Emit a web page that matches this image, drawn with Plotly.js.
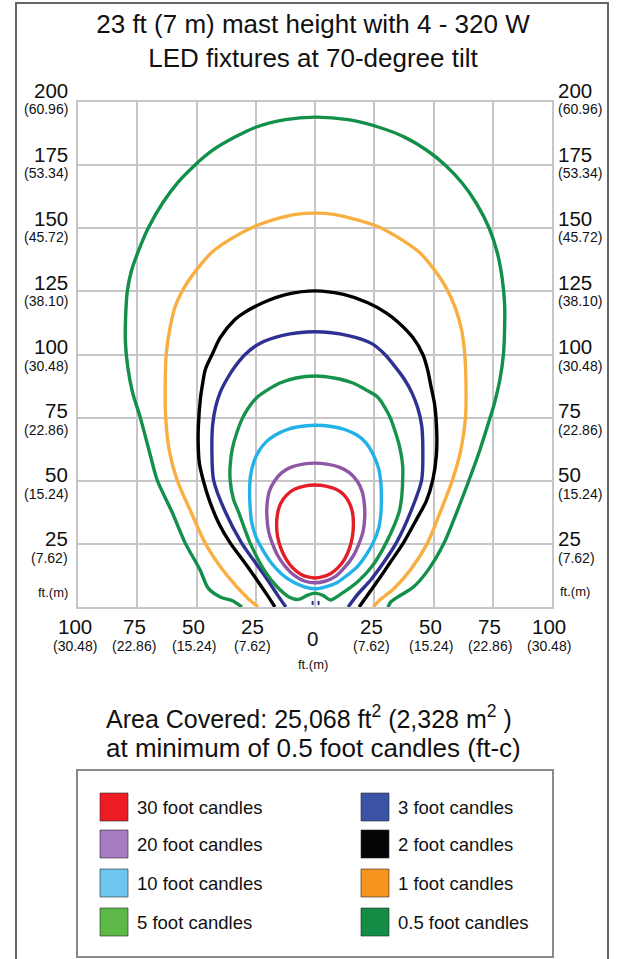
<!DOCTYPE html>
<html><head><meta charset="utf-8">
<script src="https://cdn.plot.ly/plotly-3.0.1.min.js"></script>
<style>html,body{margin:0;padding:0;background:#fff;}#chart{width:626px;height:959px;}</style>
</head><body><div id="chart"></div>
<script>
// ---- data (feet) ----
const c05x = [-30.8,-34.6,-40,-45.1,-48.5,-54.8,-60.5,-66.6,-70,-73.8,-77,-79,-80,-79.9,-79.2,-77.5,-74.5,-70.4,-64.3,-58,-50.7,-43,-34,-25,-12.5,0,14,27,38,47,55,62,68,73.5,77,79,80,80,79.5,78,75.5,74,69.5,65,60,54.5,48,41.5,35,32,30.8];
const c05y = [0,2.4,4,7.5,14.7,25.4,38,50.3,62,75.3,85,95,105,115,125,133,141,150,160,168,175,181,186,190,193,194,193,190,186,181,175,168,160,150,140,130,120,110,100,90,80,75.3,62,50.3,38,25.4,15,7.9,4,2,0];
const c1x = [-24,-28,-32.9,-40,-46.4,-52.5,-58.2,-61.5,-63,-63.2,-62.8,-61.3,-59,-55.5,-50,-43.5,-36,-26,-17,-8,0,8,17,27,36.5,44,50,55,59,61.8,63.2,63.7,63.5,61.5,58,53,47.5,40.5,33,27,24.6];
const c1y = [0,3.2,7.9,16,25.4,38,50.3,62,75,88,100,110,119,126,133.5,140.5,145.5,150.5,153.5,155.5,156,155.5,153.5,150.5,145.5,140.5,134,127,119,110,100,88,75,62,50.3,38,25.4,15,7,2.5,0];
const c2x = [-16.9,-20,-24.5,-30,-35.8,-40.5,-44.5,-47.2,-48.8,-49.3,-49.2,-48.3,-47.5,-46.3,-43.4,-40,-34,-30,-22,-12,0,12,22.3,30,34.6,41.3,45.5,47.5,48.8,50.5,51.4,51.2,49.7,47,43,37.3,32,26.7,22,18.6];
const c2y = [0,4.5,10.7,18,25.4,33,42,50.3,57,65,72,83,88,94,100,106.7,113.7,116.5,120.5,123.8,125.2,123.8,120.5,116.5,113.2,106.7,100,94,88,80,68,60,50.3,42,35,25.4,18,10.7,4.5,0];
const c3x = [-12.3,-16,-20,-25.5,-31,-38,-42.8,-43.5,-43.2,-42,-40,-37,-33.5,-29.5,-23.5,-14,0,14,24,29.5,33.5,37.5,40.8,43.3,45,45.5,45,40.5,34.3,28.5,23.5,18,14];
const c3y = [0,5,10.7,18,25.4,38,50.3,62,72,79,85,90.5,95.5,100,104.3,107.5,109,107.5,104.3,100,95.5,90.5,85,79,72,62,50.3,38,25.4,17,10.7,5,0];
const c3dotsX = [-1,-1,null,1.5,1.5];
const c3dotsY = [0.8,2.4,null,0.8,2.4];
const c5x = [0,-3.5,-7,-11,-16,-21,-27.4,-32,-34.5,-35.8,-35.8,-34.8,-33,-30.5,-28,-24.5,-20,-14.8,-8,0,8,16,21.5,26.6,29.5,31.6,34,35.8,37,37,36.5,35.5,30,24,18,11,6.5,3.5,0];
const c5y = [5.5,4.5,3,4,8,14,25.4,37,43,50.3,56,63,69,75,79,83,86,88.7,90.7,91.5,90.7,88.7,86,83,79,75.3,69,63,56,50.3,43,37.6,25.4,16,10,5.2,2.8,4.5,5.5];
const c10x = [0,-4.5,-9,-14,-18.5,-22.3,-25,-26.8,-27.4,-27.6,-27.2,-25.8,-23.5,-20.5,-16.5,-12,-7,0,7,12.5,17.5,21.5,24.5,26.8,27.8,28,27.8,26.8,24.5,21.5,17.7,13.5,9,4.5,0];
const c10y = [7.2,8,9.8,13,17.5,23,28,34,40,46,52,57.5,62,65.5,68.2,70.2,71.4,72,71.5,70.3,68.2,65,60.5,55,49,43,37,31,25.4,20.5,15.8,12.5,9.5,8,7.2];
const c20x = [0,-4.2,-8.5,-12.5,-15.8,-18.1,-19.6,-20.3,-20.2,-19.2,-17,-14,-10,-5,0,5,10.2,14.5,17.7,19.8,20.8,21,20.3,18.7,16,12.6,8.5,4.2,0];
const c20y = [9.6,10.2,12.3,16,20.5,25.4,30,36,41,46,50,53.2,55.4,56.6,57,56.6,55.4,53.2,50,46,41,36,30,25.4,20,15.8,12,10.2,9.6];
const c30x = [0,-3,-6,-9.5,-12.4,-14.5,-15.8,-16.2,-15.8,-14.5,-12,-8.7,-4.5,0,4.6,8.9,12.3,14.6,15.9,16.2,15.8,14.6,12.5,9.5,6.3,3,0];
const c30y = [11.5,11.9,13,15.6,19.3,23.5,28,32.5,37,41,44.3,46.6,47.9,48.3,47.9,46.6,44.3,41,37,32.5,28,23.3,19,15.4,13.1,11.9,11.5];

const xTickVals = [-100,-75,-50,-25,0,25,50,75,100];
const xTickMain = ['100','75','50','25','0','25','50','75','100'];
const xTickSub = ['(30.48)','(22.86)','(15.24)','(7.62)','','(7.62)','(15.24)','(22.86)','(30.48)'];
const yTickVals = [25,50,75,100,125,150,175,200];
const yTickMain = ['25','50','75','100','125','150','175','200'];
const yTickSub = ['(7.62)','(15.24)','(22.86)','(30.48)','(38.10)','(45.72)','(53.34)','(60.96)'];

const legendLabels = ['30 foot candles','20 foot candles','10 foot candles','5 foot candles','3 foot candles','2 foot candles','1 foot candles','0.5 foot candles'];
const legendColors = ['#ed1c24','#a77bc0','#6cc6ee','#5cb947','#3a53a4','#050505','#f7941d','#138c45'];
const lineColors = ['#e31e26','#8d56a6','#22b1e8','#17924a','#2e3192','#000000','#f9ae42','#12904a'];

const titleText = '23 ft (7 m) mast height with 4 - 320 W<br>LED fixtures at 70-degree tilt';
const areaLine1 = 'Area Covered: 25,068 ft<sup>2</sup> (2,328 m<sup>2</sup> )';
const areaLine2 = 'at minimum of 0.5 foot candles (ft-c)';
const unitLabel = 'ft.(m)';

// ---- layout helpers ----
const FONT = 'Liberation Sans, Arial, Helvetica, sans-serif';
const L = 78, R = 552, T = 102, B = 607;
const px2x = p => (p - L) / (R - L);
const py2y = p => (B - p) / (B - T);

const curves = [
  [c05x, c05y, 7], [c1x, c1y, 6], [c2x, c2y, 5], [c3x, c3y, 4],
  [c5x, c5y, 3], [c10x, c10y, 2], [c20x, c20y, 1], [c30x, c30y, 0]
];
const traces = curves.map(c => ({
  type: 'scatter', mode: 'lines', x: c[0], y: c[1],
  line: {color: lineColors[c[2]], width: 3.4, shape: 'spline', smoothing: 0.8},
  hoverinfo: 'skip', showlegend: false
}));
traces.push({type: 'scatter', mode: 'lines', x: c3dotsX, y: c3dotsY,
  line: {color: lineColors[4], width: 2}, showlegend: false, hoverinfo: 'skip'});

const ann = [];
yTickVals.forEach((v, i) => {
  const upShift = 5 + (v - 25) / 175 * 7;
  const downShift = 14 - (v - 25) / 175 * 7;
  [[px2x(70), 'right'], [px2x(556), 'left']].forEach(s => {
    ann.push({xref: 'paper', yref: 'y', x: s[0], y: v, xanchor: s[1], yanchor: 'middle',
      yshift: upShift, text: yTickMain[i], showarrow: false, font: {family: FONT, size: 20.5, color: '#111'}});
    ann.push({xref: 'paper', yref: 'y', x: s[0], y: v, xanchor: s[1], yanchor: 'middle',
      yshift: -downShift, text: yTickSub[i], showarrow: false, font: {family: FONT, size: 14, color: '#111'}});
  });
});
ann.push({xref: 'paper', yref: 'paper', x: px2x(70), y: py2y(592), xanchor: 'right', yanchor: 'middle',
  text: unitLabel, showarrow: false, font: {family: FONT, size: 13, color: '#111'}});
ann.push({xref: 'paper', yref: 'paper', x: px2x(558), y: py2y(591), xanchor: 'left', yanchor: 'middle',
  text: unitLabel, showarrow: false, font: {family: FONT, size: 13, color: '#111'}});
xTickVals.forEach((v, i) => {
  const isZero = xTickMain[i] === '0';
  ann.push({xref: 'x', yref: 'paper', x: v, y: py2y(isZero ? 638 : 626), xanchor: 'center', yanchor: 'middle',
    xshift: -3, text: xTickMain[i], showarrow: false, font: {family: FONT, size: 20.5, color: '#111'}});
  if (xTickSub[i]) {
    ann.push({xref: 'x', yref: 'paper', x: v, y: py2y(646), xanchor: 'center', yanchor: 'middle',
      xshift: -3, text: xTickSub[i], showarrow: false, font: {family: FONT, size: 14, color: '#111'}});
  }
});
ann.push({xref: 'paper', yref: 'paper', x: px2x(313), y: py2y(664), xanchor: 'center', yanchor: 'middle',
  text: unitLabel, showarrow: false, font: {family: FONT, size: 13, color: '#111'}});
ann.push({xref: 'paper', yref: 'paper', x: px2x(309), y: py2y(717), xanchor: 'center', yanchor: 'middle',
  text: areaLine1, showarrow: false, font: {family: FONT, size: 25, color: '#111'}});
ann.push({xref: 'paper', yref: 'paper', x: px2x(313), y: py2y(748), xanchor: 'center', yanchor: 'middle',
  text: areaLine2, showarrow: false, font: {family: FONT, size: 26, color: '#111'}});

const shapes = [];
shapes.push({type: 'rect', xref: 'paper', yref: 'paper', x0: px2x(16), x1: px2x(608), y0: py2y(975), y1: py2y(3),
  line: {color: '#666', width: 2}, fillcolor: 'rgba(0,0,0,0)', layer: 'below'});
shapes.push({type: 'rect', xref: 'paper', yref: 'paper', x0: px2x(77), x1: px2x(553), y0: py2y(957), y1: py2y(770),
  line: {color: '#8a8a8a', width: 2}, fillcolor: 'rgba(0,0,0,0)'});
const rowCenters = [807, 844, 883, 922];
legendLabels.forEach((lab, i) => {
  const col = i < 4 ? 0 : 1;
  const cy = rowCenters[i % 4];
  const sx = col === 0 ? 100 : 361;
  shapes.push({type: 'rect', xref: 'paper', yref: 'paper', x0: px2x(sx), x1: px2x(sx + 28),
    y0: py2y(cy + 14), y1: py2y(cy - 14), fillcolor: legendColors[i], line: {color: 'rgba(40,40,40,0.6)', width: 1}});
  ann.push({xref: 'paper', yref: 'paper', x: px2x(sx + 35), y: py2y(cy), xanchor: 'left', yanchor: 'middle',
    text: lab, showarrow: false, font: {family: FONT, size: 18.5, color: '#111'}});
});

const layout = {
  width: 626, height: 959,
  margin: {l: L, r: 626 - R, t: T, b: 959 - B, pad: 0},
  paper_bgcolor: '#fff', plot_bgcolor: '#fff',
  title: {text: titleText, x: 0.5, xref: 'container', xanchor: 'center', y: 1 - 33 / 959, yref: 'container', yanchor: 'middle',
    font: {family: FONT, size: 26, color: '#111'}},
  xaxis: {range: [-100, 100], tick0: 0, dtick: 25, showticklabels: false, ticks: '', showgrid: true,
    gridcolor: '#c6c6c6', gridwidth: 2, zeroline: false, showline: true, linecolor: '#c6c6c6', linewidth: 2, mirror: true, fixedrange: true},
  yaxis: {range: [0, 200], tick0: 0, dtick: 25, showticklabels: false, ticks: '', showgrid: true,
    gridcolor: '#c6c6c6', gridwidth: 2, zeroline: false, showline: true, linecolor: '#c6c6c6', linewidth: 2, mirror: true, fixedrange: true},
  showlegend: false,
  annotations: ann,
  shapes: shapes
};
Plotly.newPlot('chart', traces, layout, {staticPlot: true, displayModeBar: false});
</script>
</body></html>
